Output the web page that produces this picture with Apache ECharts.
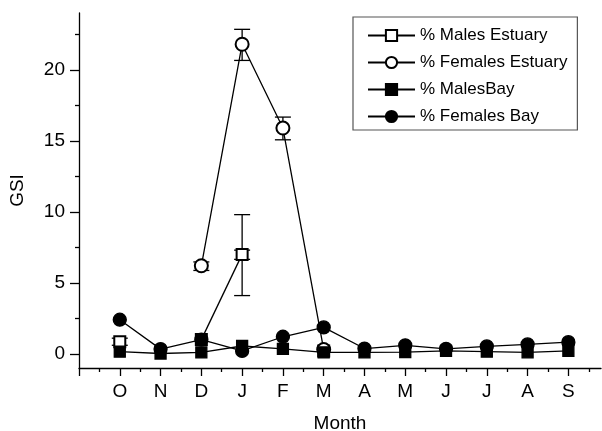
<!DOCTYPE html>
<html><head><meta charset="utf-8">
<script src="https://cdn.jsdelivr.net/npm/echarts@6/dist/echarts.min.js"></script>
<style>html,body{margin:0;padding:0;background:#fff}#c{width:602px;height:431px}</style>
</head><body><div id="c"></div>
<script>
const months = ['O','N','D','J','F','M','A','M','J','J','A','S'];
const malesEstuary   = [0.85, null, 1.0, 7.0, null, 0.2, null, null, null, null, null, null];
const femalesEstuary = [null, null, 6.2, 21.8, 15.9, 0.3, null, null, null, null, null, null];
const malesBay       = [0.15, 0.02, 0.1, 0.55, 0.35, 0.1, 0.1, 0.12, 0.2, 0.15, 0.1, 0.2];
const femalesBay     = [2.4, 0.33, 1.0, 0.2, 1.2, 1.86, 0.37, 0.6, 0.35, 0.52, 0.66, 0.82];
// error bars: [month index, low, high]
const errMalesEstuary   = [[0, 0.6, 1.1], [3, 4.1, 9.8], [3, 6.65, 7.3]];
const errFemalesEstuary = [[2, 5.87, 6.47], [3, 20.66, 22.85], [4, 15.07, 16.67]];
const yMajorTicks = [0, 5, 10, 15, 20];
const yMinorTicks = [2.5, 7.5, 12.5, 17.5, 22.5];
const xMajorTicks = [0,1,2,3,4,5,6,7,8,9,10,11,12];
const xMinorTicks = [0.5,1.5,2.5,3.5,4.5,5.5,6.5,7.5,8.5,9.5,10.5,11.5,12.5];
const xLabelTicks = [1,2,3,4,5,6,7,8,9,10,11,12];

const FONT = 'Liberation Sans, Arial, sans-serif';
const pairs = arr => arr.map((v, i) => [i + 1, v == null ? '-' : v]);
const errData = arr => arr.map(d => [d[0] + 1, d[1], d[2]]);

function errRender(params, api) {
  const x = api.value(0);
  const lo = api.coord([x, api.value(1)]);
  const hi = api.coord([x, api.value(2)]);
  const hw = 8;
  const style = { stroke: '#000', lineWidth: 1.3, fill: null };
  return {
    type: 'group',
    children: [
      { type: 'line', shape: { x1: lo[0], y1: lo[1], x2: hi[0], y2: hi[1] }, style },
      { type: 'line', shape: { x1: lo[0] - hw, y1: lo[1], x2: lo[0] + hw, y2: lo[1] }, style },
      { type: 'line', shape: { x1: hi[0] - hw, y1: hi[1], x2: hi[0] + hw, y2: hi[1] }, style }
    ]
  };
}

const lineStyle = { color: '#000', width: 1.3 };
const itemStyle = { color: '#000', borderColor: '#000', borderWidth: 1.3 };
const tickLine = { color: '#000', width: 1.3 };

const chart = echarts.init(document.getElementById('c'));
chart.setOption({
  animation: false,
  backgroundColor: '#fff',
  textStyle: { fontFamily: FONT },
  grid: { left: 79, right: 1, top: 13, bottom: 63, containLabel: false, outerBoundsMode: 'none' },
  legend: {
    orient: 'vertical',
    left: 353, top: 17,
    padding: [10, 10, 5, 14],
    borderColor: '#555', borderWidth: 1.2,
    itemWidth: 47, itemHeight: 14, itemGap: 10,
    textStyle: { fontFamily: FONT, fontSize: 17, color: '#000' },
    data: ['% Males Estuary', '% Females Estuary', '% MalesBay', '% Females Bay']
  },
  xAxis: [{
    type: 'value', min: 0, max: 12.8,
    name: 'Month', nameLocation: 'middle', nameGap: 46,
    nameTextStyle: { fontFamily: FONT, fontSize: 19, color: '#000' },
    axisLine: { onZero: false, lineStyle: tickLine },
    axisTick: { show: true, length: 8, customValues: xMajorTicks, lineStyle: tickLine },
    axisLabel: { customValues: xLabelTicks, margin: 14, fontSize: 19, color: '#000', fontFamily: FONT,
      formatter: v => months[Math.round(v) - 1] || '' },
    splitLine: { show: false }
  }, {
    type: 'value', min: 0, max: 12.8, position: 'bottom',
    axisLine: { show: false, onZero: false },
    axisTick: { show: true, length: 4, customValues: xMinorTicks, lineStyle: tickLine },
    axisLabel: { show: false },
    splitLine: { show: false }
  }],
  yAxis: [{
    type: 'value', min: -1, max: 24,
    name: 'GSI', nameLocation: 'middle', nameGap: 52, nameRotate: 90,
    nameTextStyle: { fontFamily: FONT, fontSize: 19, color: '#000' },
    axisLine: { show: true, onZero: false, lineStyle: tickLine },
    axisTick: { show: true, length: 9, customValues: yMajorTicks, lineStyle: tickLine },
    axisLabel: { customValues: yMajorTicks, margin: 14, fontSize: 19, color: '#000', fontFamily: FONT },
    splitLine: { show: false }
  }, {
    type: 'value', min: -1, max: 24, position: 'left',
    axisLine: { show: false, onZero: false },
    axisTick: { show: true, length: 4, customValues: yMinorTicks, lineStyle: tickLine },
    axisLabel: { show: false },
    splitLine: { show: false }
  }],
  series: [
    { type: 'custom', renderItem: errRender, data: errData(errMalesEstuary), z: 1, silent: true },
    { type: 'custom', renderItem: errRender, data: errData(errFemalesEstuary), z: 1, silent: true },
    { name: '% Males Estuary', type: 'line', data: pairs(malesEstuary), symbol: 'emptyRect', symbolSize: 11,
      lineStyle, itemStyle, z: 2 },
    { name: '% Females Estuary', type: 'line', data: pairs(femalesEstuary), symbol: 'emptyCircle', symbolSize: 13,
      lineStyle, itemStyle, z: 2 },
    { name: '% MalesBay', type: 'line', data: pairs(malesBay), symbol: 'rect', symbolSize: 11,
      lineStyle, itemStyle, z: 3 },
    { name: '% Females Bay', type: 'line', data: pairs(femalesBay), symbol: 'circle', symbolSize: 13,
      lineStyle, itemStyle, z: 4 }
  ]
});
</script></body></html>
